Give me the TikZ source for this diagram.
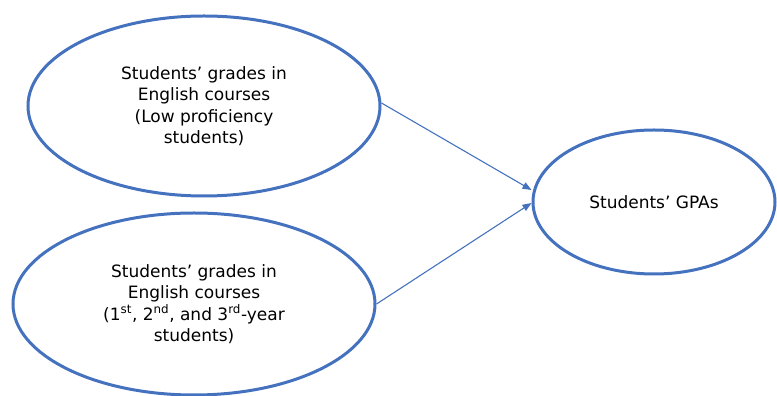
\documentclass[tikz,border=0pt]{standalone}
\usepackage{fontspec}
\setmainfont{DejaVu Sans}
\usepackage{xcolor}
\usetikzlibrary{shapes.geometric,arrows.meta}

\definecolor{ovalblue}{RGB}{68,114,190}

\begin{document}
\begin{tikzpicture}[x=1pt,y=1pt,
                    oval/.style={ellipse,draw=ovalblue,line width=3pt,align=center,
                                 inner sep=0pt,font=\fontsize{17}{21.5}\selectfont},
                    link/.style={draw=ovalblue,line width=1.1pt,
                                 -{Triangle[length=9pt,width=7pt]}}]
    \useasboundingbox (0,0) rectangle (777,396);
    \node[oval,minimum width=352pt,minimum height=180pt] (low) at (204,290)
        {Students’ grades in\\English courses\\(Low proficiency\\students)};
    \node[oval,minimum width=362pt,minimum height=182pt] (year) at (194,92)
        {Students’ grades in\\English courses\\(1\textsuperscript{st}, 2\textsuperscript{nd}, and 3\textsuperscript{rd}-year\\students)};
    \node[oval,minimum width=242pt,minimum height=144pt] (gpa) at (654,194)
        {Students’ GPAs};
    % both predictors point at the outcome
    \draw[link] ([yshift=3pt]low.east) -- ([yshift=12pt]gpa.west);
    \draw[link] (year.east) -- ([yshift=-1pt]gpa.west);
\end{tikzpicture}
\end{document}
